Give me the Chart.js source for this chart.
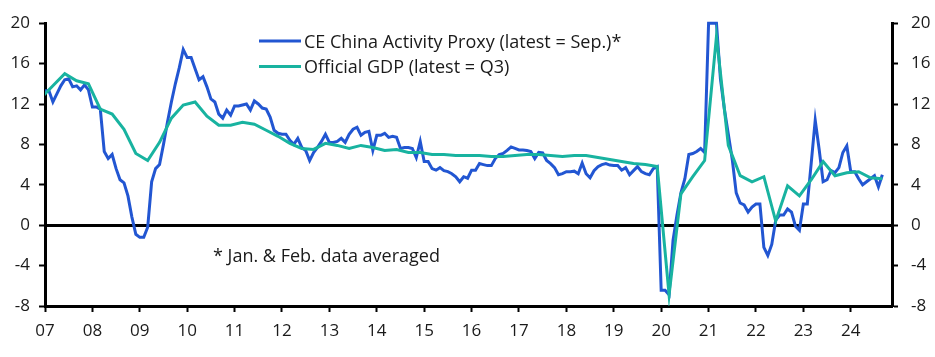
<!DOCTYPE html>
<html>
<head>
<meta charset="utf-8">
<script src="https://cdn.jsdelivr.net/npm/chart.js@4.4.1/dist/chart.umd.min.js"></script>
<style>
html,body{margin:0;padding:0;background:#ffffff;}
#wrap{width:935px;height:357px;position:relative;}
</style>
</head>
<body>
<div id="wrap"><canvas id="c" width="935" height="357"></canvas></div>
<script>
// ---- Data ----
// CE China Activity Proxy, % y/y, monthly from Jan 2007 to Sep 2024 (Jan & Feb averaged)
// (early-2021 values run off the top of the chart; shown at the axis maximum as in the picture)
const proxyStartYear = 2007;
const proxyValues = [
  13.3, 13.3, 12.2, 13.0, 13.8, 14.4, 14.5, 13.7, 13.8, 13.4, 13.9, 13.4,   // 2007
  11.7, 11.7, 11.5, 7.3, 6.6, 7.0, 5.6, 4.5, 4.2, 2.9, 0.8, -0.9,           // 2008
  -1.2, -1.2, -0.2, 4.3, 5.6, 6.0, 8.0, 10.2, 12.2, 14.0, 15.6, 17.4,       // 2009
  16.6, 16.6, 15.5, 14.4, 14.7, 13.7, 12.5, 12.2, 11.0, 10.6, 11.4, 10.9,   // 2010
  11.8, 11.8, 11.9, 12.0, 11.4, 12.3, 12.0, 11.6, 11.5, 10.7, 9.4, 9.1,     // 2011
  9.0, 9.0, 8.4, 8.0, 8.6, 7.7, 7.4, 6.4, 7.2, 7.7, 8.3, 9.0,               // 2012
  8.2, 8.2, 8.3, 8.6, 8.2, 9.0, 9.5, 9.7, 8.9, 9.2, 9.3, 7.4,               // 2013
  8.9, 8.9, 9.1, 8.7, 8.8, 8.7, 7.6, 7.7, 7.7, 7.6, 6.7, 8.3,               // 2014
  6.3, 6.3, 5.6, 5.45, 5.7, 5.4, 5.3, 5.1, 4.8, 4.3, 4.8, 4.65,             // 2015
  5.45, 5.45, 6.1, 6.0, 5.9, 5.9, 6.6, 7.0, 7.1, 7.4, 7.75, 7.6,            // 2016
  7.45, 7.45, 7.4, 7.3, 6.6, 7.2, 7.15, 6.4, 6.1, 5.7, 5.0, 5.1,            // 2017
  5.3, 5.3, 5.35, 5.1, 6.15, 5.1, 4.7, 5.4, 5.8, 6.0, 6.1, 5.95,            // 2018
  5.9, 5.9, 5.45, 5.7, 5.0, 5.4, 5.8, 5.3, 5.1, 5.0, 5.6, 5.8,              // 2019
  -6.45, -6.45, -6.9, -1.5, 1.0, 3.2, 4.6, 7.0, 7.1, 7.3, 7.6, 7.2,         // 2020
  20.0, 20.0, 20.0, 14.5, 11.5, 9.0, 6.5, 3.2, 2.2, 2.0, 1.3, 1.8,          // 2021
  2.1, 2.1, -2.2, -3.0, -1.9, 0.5, 1.0, 1.0, 1.6, 1.3, -0.1, -0.5,          // 2022
  2.1, 2.1, 6.2, 10.4, 7.5, 4.3, 4.5, 5.4, 5.2, 5.7, 7.2, 7.85,             // 2023
  5.3, 5.3, 4.6, 4.0, 4.3, 4.6, 4.9, 3.8, 5.0                               // 2024
];

// Official GDP, % y/y, quarterly (plotted at quarter-end month)
const gdpQuarters = [
  '2006Q4',
  '2007Q1','2007Q2','2007Q3','2007Q4','2008Q1','2008Q2','2008Q3','2008Q4',
  '2009Q1','2009Q2','2009Q3','2009Q4','2010Q1','2010Q2','2010Q3','2010Q4',
  '2011Q1','2011Q2','2011Q3','2011Q4','2012Q1','2012Q2','2012Q3','2012Q4',
  '2013Q1','2013Q2','2013Q3','2013Q4','2014Q1','2014Q2','2014Q3','2014Q4',
  '2015Q1','2015Q2','2015Q3','2015Q4','2016Q1','2016Q2','2016Q3','2016Q4',
  '2017Q1','2017Q2','2017Q3','2017Q4','2018Q1','2018Q2','2018Q3','2018Q4',
  '2019Q1','2019Q2','2019Q3','2019Q4','2020Q1','2020Q2','2020Q3','2020Q4',
  '2021Q1','2021Q2','2021Q3','2021Q4','2022Q1','2022Q2','2022Q3','2022Q4',
  '2023Q1','2023Q2','2023Q3','2023Q4','2024Q1','2024Q2','2024Q3'
];
const gdpValues = [
  12.6,
  13.8, 15.0, 14.3, 14.0, 11.5, 11.0, 9.5, 7.1,
  6.4, 8.2, 10.6, 11.9, 12.2, 10.8, 9.9, 9.9,
  10.2, 10.0, 9.4, 8.8, 8.1, 7.6, 7.5, 8.1,
  7.9, 7.6, 7.9, 7.7, 7.4, 7.5, 7.2, 7.2,
  7.0, 7.0, 6.9, 6.9, 6.9, 6.8, 6.8, 6.9,
  7.0, 7.0, 6.9, 6.8, 6.9, 6.9, 6.7, 6.5,
  6.3, 6.1, 6.0, 5.8, -6.9, 3.1, 4.8, 6.4,
  18.7, 7.9, 4.9, 4.3, 4.8, 0.4, 3.9, 2.9,
  4.5, 6.3, 4.9, 5.2, 5.3, 4.7, 4.6
];

const yearTicks = [2007,2008,2009,2010,2011,2012,2013,2014,2015,2016,2017,2018,2019,2020,2021,2022,2023,2024];
const yTicks = [-8,-4,0,4,8,12,16,20];

const seriesNames = ['CE China Activity Proxy (latest = Sep.)*', 'Official GDP (latest = Q3)'];
const footnote = '* Jan. & Feb. data averaged';

// ---- Build points ----
const proxyPoints = proxyValues.map((v, i) => ({ x: proxyStartYear + i / 12, y: v }));
const gdpPoints = gdpQuarters.map((q, i) => {
  const yr = parseInt(q.slice(0, 4), 10);
  const qn = parseInt(q.slice(5), 10);
  return { x: yr + (qn * 3 - 1) / 12, y: gdpValues[i] };
});

const BLUE = '#2256d2';
const GREEN = '#18b3a0';
const TEXT = '#1a1a1a';
const FONT = '"Open Sans", Lato, sans-serif';
const TICK_SIZE = 17;
const LABEL_SIZE = 18;

const overlayPlugin = {
  id: 'overlay',
  afterDraw(chart) {
    const c = chart.ctx;
    c.save();
    c.font = LABEL_SIZE + 'px ' + FONT;
    c.fillStyle = TEXT;
    c.textBaseline = 'alphabetic';
    c.textAlign = 'left';
    const items = [
      { color: BLUE, y: 41, base: 47.5, text: seriesNames[0] },
      { color: GREEN, y: 66.5, base: 72.5, text: seriesNames[1] }
    ];
    items.forEach(it => {
      c.strokeStyle = it.color;
      c.lineWidth = 3;
      c.beginPath();
      c.moveTo(259, it.y);
      c.lineTo(301, it.y);
      c.stroke();
      c.fillText(it.text, 304, it.base);
    });
    c.fillText(footnote, 213, 262);
    c.restore();
  }
};

new Chart(document.getElementById('c'), {
  type: 'line',
  data: {
    datasets: [
      { label: seriesNames[1], data: gdpPoints, borderColor: GREEN, borderWidth: 3, pointRadius: 0, tension: 0, order: 1, yAxisID: 'y' },
      { label: seriesNames[0], data: proxyPoints, borderColor: BLUE, borderWidth: 3, pointRadius: 0, tension: 0, order: 2, yAxisID: 'y',
        clip: { left: 0, right: 0, top: 3, bottom: 0 } }
    ]
  },
  options: {
    responsive: false,
    animation: false,
    events: [],
    layout: { padding: { top: 16, left: 0, right: 0, bottom: 0 } },
    plugins: { legend: { display: false }, tooltip: { enabled: false } },
    scales: {
      x: {
        type: 'linear',
        min: 2007,
        max: 2024.87,
        afterBuildTicks: s => { s.ticks = yearTicks.map(v => ({ value: v })); },
        afterFit: s => { s.height = 51; },
        ticks: {
          autoSkip: false, maxRotation: 0, minRotation: 0,
          padding: 9, color: TEXT, font: { family: FONT, size: TICK_SIZE },
          callback: v => String(v).slice(2)
        },
        grid: { drawOnChartArea: false, drawTicks: true, tickLength: 6, tickColor: '#000', tickWidth: 2 },
        border: { display: true, color: '#000', width: 3 }
      },
      y: {
        position: 'left',
        min: -8, max: 20,
        afterBuildTicks: s => { s.ticks = yTicks.map(v => ({ value: v })); },
        afterFit: s => { s.width = 45; },
        ticks: { padding: 9, color: TEXT, font: { family: FONT, size: TICK_SIZE } },
        grid: {
          drawOnChartArea: true, drawTicks: true, tickLength: 6,
          color: c => (c.tick && c.tick.value === 0) ? '#000' : 'rgba(0,0,0,0)',
          lineWidth: c => (c.tick && c.tick.value === 0) ? 3 : 1,
          tickColor: '#000', tickWidth: 2
        },
        border: { display: true, color: '#000', width: 3 }
      },
      y2: {
        position: 'right',
        min: -8, max: 20,
        afterBuildTicks: s => { s.ticks = yTicks.map(v => ({ value: v })); },
        afterFit: s => { s.width = 43; },
        ticks: { padding: 13, color: TEXT, font: { family: FONT, size: TICK_SIZE } },
        grid: { drawOnChartArea: false, drawTicks: true, tickLength: 6, tickColor: '#000', tickWidth: 2 },
        border: { display: true, color: '#000', width: 3 }
      }
    }
  },
  plugins: [overlayPlugin]
});
</script>
</body>
</html>
